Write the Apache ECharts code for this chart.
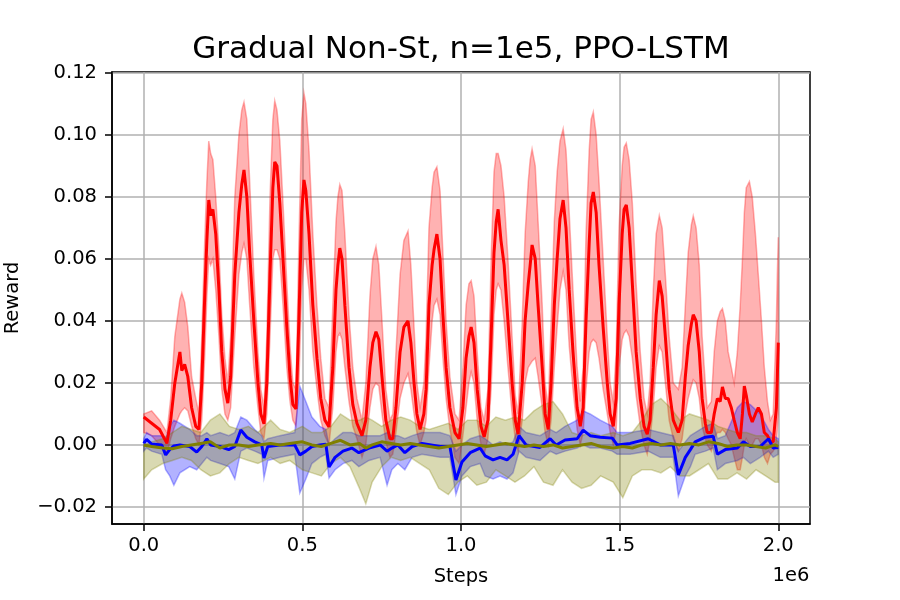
<!DOCTYPE html>
<html><head><meta charset="utf-8">
<script src="https://cdn.jsdelivr.net/npm/echarts@6/dist/echarts.min.js"></script>
<style>html,body{margin:0;padding:0;background:#fff}#c{width:900px;height:600px}</style>
</head><body><div id="c"></div>
<script>
// x values are steps in millions (axis shows "1e6" offset)
const xTickValues = [0, 0.5, 1.0, 1.5, 2.0];
const yTickValues = [-0.02, 0.00, 0.02, 0.04, 0.06, 0.08, 0.10, 0.12];

const redSteps = [
0.000,0.025,0.050,0.073,0.085,0.098,0.114,0.120,0.129,0.139,
0.151,0.164,0.174,0.183,0.192,0.199,0.205,0.211,0.218,0.227,
0.237,0.246,0.256,0.265,0.274,0.287,0.300,0.309,0.316,0.325,
0.334,0.347,0.360,0.369,0.379,0.388,0.398,0.407,0.413,0.420,
0.429,0.439,0.451,0.461,0.470,0.480,0.489,0.498,0.505,0.511,
0.521,0.533,0.546,0.558,0.571,0.584,0.596,0.606,0.612,0.618,
0.625,0.634,0.647,0.659,0.672,0.688,0.700,0.713,0.722,0.732,
0.741,0.751,0.763,0.776,0.785,0.795,0.808,0.820,0.833,0.842,
0.852,0.861,0.871,0.883,0.890,0.899,0.909,0.915,0.924,0.934,
0.943,0.953,0.965,0.981,0.994,1.006,1.016,1.025,1.032,1.041,
1.051,1.063,1.073,1.085,1.095,1.104,1.111,1.117,1.126,1.136,
1.148,1.161,1.171,1.180,1.193,1.202,1.212,1.218,1.224,1.234,
1.243,1.256,1.265,1.275,1.284,1.294,1.303,1.312,1.322,1.331,
1.341,1.353,1.366,1.376,1.385,1.394,1.404,1.410,1.417,1.426,
1.435,1.448,1.461,1.470,1.480,1.489,1.498,1.508,1.514,1.521,
1.530,1.540,1.552,1.565,1.577,1.587,1.596,1.606,1.615,1.625,
1.634,1.644,1.656,1.669,1.685,1.697,1.707,1.716,1.726,1.732,
1.741,1.751,1.760,1.770,1.776,1.789,1.798,1.808,1.817,1.824,
1.833,1.842,1.852,1.861,1.871,1.880,1.887,1.893,1.899,1.909,
1.918,1.928,1.937,1.947,1.956,1.966,1.975,1.984,1.994,1.997,
2.000];
const redMean = [
0.0090,0.0070,0.0050,0.0005,0.008,0.020,0.030,0.024,0.026,0.022,
0.012,0.006,0.005,0.020,0.047,0.066,0.079,0.074,0.076,0.068,
0.050,0.030,0.018,0.0135,0.022,0.055,0.075,0.084,0.0887,0.080,
0.062,0.040,0.020,0.010,0.0068,0.020,0.055,0.083,0.0913,0.090,
0.078,0.060,0.038,0.022,0.013,0.0116,0.040,0.075,0.0855,0.082,
0.068,0.045,0.028,0.015,0.008,0.0058,0.025,0.050,0.058,0.0635,
0.060,0.045,0.025,0.013,0.007,0.003,0.008,0.025,0.033,0.0365,
0.034,0.022,0.008,0.002,0.002,0.012,0.030,0.038,0.040,0.033,
0.020,0.010,0.005,0.010,0.018,0.045,0.058,0.063,0.068,0.060,
0.042,0.025,0.012,0.004,0.002,0.012,0.028,0.035,0.038,0.033,
0.018,0.006,0.0026,0.008,0.035,0.062,0.072,0.076,0.066,0.058,
0.040,0.020,0.008,0.0035,0.020,0.040,0.052,0.058,0.0645,0.060,
0.045,0.025,0.010,0.005,0.020,0.045,0.060,0.073,0.079,0.070,
0.050,0.030,0.012,0.006,0.012,0.040,0.065,0.078,0.0816,0.075,
0.058,0.038,0.020,0.010,0.006,0.015,0.045,0.068,0.076,0.0774,
0.070,0.052,0.030,0.015,0.006,0.0035,0.008,0.025,0.042,0.053,
0.048,0.035,0.018,0.008,0.004,0.008,0.022,0.032,0.039,0.042,
0.040,0.030,0.015,0.007,0.004,0.004,0.010,0.015,0.014,0.0187,
0.015,0.015,0.012,0.008,0.004,0.002,0.010,0.019,0.016,0.010,
0.0074,0.010,0.012,0.010,0.004,0.003,0.001,0.001,0.012,0.022,
0.033];
const redLow = [
0.004,0.003,0.000,-0.003,0.002,0.006,0.010,0.011,0.012,0.011,
0.006,0.002,0.000,0.008,0.028,0.048,0.060,0.058,0.060,0.050,
0.035,0.018,0.010,0.008,0.012,0.035,0.055,0.062,0.065,0.060,
0.045,0.025,0.012,0.004,0.002,0.010,0.035,0.060,0.063,0.063,
0.060,0.045,0.025,0.014,0.008,0.006,0.020,0.050,0.060,0.060,
0.050,0.030,0.018,0.008,0.003,0.000,0.012,0.030,0.035,0.036,
0.034,0.025,0.014,0.006,0.002,-0.004,0.000,0.012,0.018,0.020,
0.019,0.010,0.001,-0.004,-0.003,0.004,0.015,0.020,0.023,0.018,
0.010,0.004,0.000,0.004,0.008,0.025,0.040,0.045,0.047,0.042,
0.028,0.015,0.005,-0.004,-0.006,0.003,0.012,0.020,0.0235,0.020,
0.008,0.000,-0.003,0.002,0.018,0.042,0.050,0.052,0.050,0.040,
0.025,0.010,0.002,-0.002,0.008,0.020,0.025,0.026,0.027,0.028,
0.022,0.012,0.004,0.000,0.008,0.025,0.038,0.050,0.056,0.050,
0.032,0.018,0.005,0.000,0.004,0.018,0.030,0.033,0.034,0.033,
0.028,0.018,0.010,0.004,0.000,0.005,0.025,0.034,0.036,0.037,
0.035,0.028,0.016,0.006,0.000,-0.003,0.002,0.012,0.025,0.032,
0.030,0.020,0.008,0.002,-0.002,0.002,0.010,0.015,0.019,0.021,
0.020,0.015,0.006,0.002,0.000,-0.002,0.002,0.004,0.004,0.005,
0.004,0.002,0.000,-0.004,-0.008,-0.008,-0.004,0.000,0.002,0.000,
0.000,0.002,0.002,0.000,-0.004,-0.006,-0.003,-0.002,0.000,0.005,
0.010];
const redHigh = [
0.010,0.011,0.008,0.004,0.015,0.035,0.047,0.049,0.046,0.038,
0.022,0.015,0.010,0.035,0.065,0.085,0.098,0.094,0.092,0.080,
0.063,0.042,0.028,0.020,0.035,0.080,0.100,0.108,0.1106,0.105,
0.085,0.055,0.030,0.018,0.012,0.035,0.080,0.105,0.111,0.108,
0.098,0.078,0.052,0.032,0.020,0.018,0.065,0.105,0.1135,0.110,
0.095,0.068,0.045,0.028,0.015,0.012,0.045,0.072,0.080,0.084,
0.082,0.068,0.042,0.025,0.015,0.008,0.020,0.048,0.060,0.064,
0.058,0.040,0.018,0.008,0.010,0.030,0.055,0.066,0.069,0.058,
0.038,0.020,0.012,0.020,0.035,0.070,0.083,0.088,0.0897,0.082,
0.062,0.040,0.022,0.010,0.008,0.025,0.045,0.052,0.053,0.048,
0.030,0.012,0.008,0.018,0.060,0.088,0.094,0.094,0.090,0.080,
0.060,0.035,0.016,0.010,0.040,0.068,0.085,0.092,0.0955,0.090,
0.072,0.045,0.020,0.012,0.040,0.072,0.088,0.098,0.102,0.095,
0.075,0.050,0.025,0.014,0.025,0.068,0.095,0.105,0.1074,0.100,
0.085,0.060,0.035,0.020,0.014,0.030,0.070,0.090,0.096,0.0974,
0.092,0.078,0.052,0.030,0.015,0.010,0.020,0.050,0.068,0.074,
0.070,0.055,0.035,0.020,0.018,0.025,0.045,0.062,0.071,0.0739,
0.070,0.058,0.035,0.020,0.012,0.014,0.030,0.040,0.043,0.044,
0.040,0.030,0.025,0.020,0.030,0.045,0.060,0.075,0.083,0.085,
0.080,0.068,0.055,0.040,0.025,0.014,0.008,0.010,0.040,0.055,
0.067];

const blueSteps = [
0.000,0.009,0.025,0.057,0.069,0.082,0.095,0.114,0.145,0.167,
0.183,0.199,0.211,0.240,0.268,0.287,0.306,0.325,0.350,0.372,
0.379,0.391,0.429,0.476,0.492,0.511,0.530,0.555,0.574,0.584,
0.603,0.628,0.656,0.678,0.710,0.745,0.767,0.782,0.801,0.823,
0.846,0.877,0.934,0.965,0.984,1.003,1.029,1.060,1.076,1.101,
1.123,1.145,1.164,1.183,1.205,1.249,1.281,1.300,1.328,1.366,
1.385,1.407,1.439,1.477,1.492,1.533,1.590,1.628,1.669,1.685,
1.707,1.723,1.738,1.770,1.795,1.808,1.833,1.871,1.890,1.912,
1.943,1.969,1.984,2.000];
const blueMean = [
0.0005,0.0018,0.0003,0.0000,-0.0032,-0.0015,-0.0003,0.0000,-0.0005,-0.0023,
-0.0005,0.0020,0.0000,-0.0005,-0.0015,-0.0005,0.0048,0.0025,0.0010,0.0000,
-0.0042,-0.0005,0.0000,0.0000,-0.0032,-0.0020,-0.0005,0.0000,0.0002,-0.0071,
-0.0040,-0.0020,-0.0010,-0.0025,-0.0010,0.0000,-0.0020,-0.0010,0.0000,-0.0025,
-0.0005,0.0005,-0.0005,-0.0005,-0.0113,-0.0055,-0.0025,-0.0010,-0.0035,-0.0048,
-0.0040,-0.0048,-0.0030,0.0030,0.0000,-0.0008,0.0020,0.0000,0.0016,0.0020,
0.0048,0.0030,0.0025,0.0022,0.0000,0.0005,0.0020,0.0000,0.0000,-0.0097,
-0.0040,-0.0015,0.0010,0.0025,0.0028,-0.0030,-0.0015,-0.0010,0.0010,-0.0005,
-0.0005,0.0020,-0.0010,-0.0008];
const blueLow = [
-0.002,-0.001,-0.002,-0.003,-0.008,-0.010,-0.013,-0.009,-0.007,-0.008,
-0.006,-0.004,-0.005,-0.006,-0.007,-0.011,-0.002,-0.001,-0.002,-0.003,
-0.0107,-0.005,-0.004,-0.003,-0.0155,-0.011,-0.006,-0.004,-0.003,-0.0107,
-0.008,-0.006,-0.005,-0.007,-0.005,-0.004,-0.013,-0.008,-0.006,-0.008,
-0.004,-0.003,-0.004,-0.004,-0.016,-0.010,-0.007,-0.006,-0.010,-0.011,
-0.010,-0.011,-0.009,-0.002,-0.004,-0.005,-0.002,-0.003,-0.002,-0.001,
0.000,-0.001,-0.001,-0.002,-0.003,-0.003,-0.002,-0.004,-0.004,-0.0165,
-0.010,-0.007,-0.003,-0.002,-0.001,-0.008,-0.006,-0.005,-0.004,-0.006,
-0.004,-0.002,-0.004,-0.003];
const blueHigh = [
0.002,0.004,0.003,0.003,0.002,0.006,0.008,0.007,0.005,0.003,
0.003,0.004,0.003,0.004,0.003,0.004,0.009,0.008,0.005,0.003,
0.001,0.002,0.003,0.004,0.019,0.014,0.009,0.006,0.005,0.000,
0.002,0.004,0.004,0.003,0.003,0.003,0.004,0.003,0.003,0.002,
0.003,0.004,0.004,0.003,-0.002,0.000,0.002,0.003,0.002,0.000,
0.001,0.000,0.001,0.006,0.004,0.003,0.005,0.004,0.006,0.008,
0.011,0.010,0.008,0.006,0.004,0.004,0.005,0.004,0.003,-0.002,
0.001,0.003,0.004,0.006,0.007,0.002,0.003,0.012,0.014,0.013,
0.010,0.005,0.003,0.002];

const oliveSteps = [
0.000,0.025,0.060,0.090,0.120,0.150,0.180,0.210,0.240,0.270,
0.300,0.330,0.360,0.400,0.430,0.460,0.500,0.530,0.560,0.590,
0.620,0.650,0.680,0.700,0.720,0.750,0.780,0.810,0.840,0.870,
0.900,0.930,0.960,0.990,1.020,1.050,1.080,1.110,1.140,1.170,
1.200,1.230,1.260,1.290,1.320,1.350,1.380,1.410,1.440,1.480,
1.510,1.540,1.570,1.600,1.630,1.660,1.690,1.720,1.750,1.780,
1.810,1.840,1.870,1.900,1.930,1.960,1.990,2.000];
const oliveMean = [
0.000,-0.0005,-0.001,-0.0012,-0.0005,0.000,0.0005,0.001,-0.001,0.000,
0.000,-0.0005,0.000,0.0005,0.000,0.0005,0.001,0.000,-0.0005,0.0005,
0.0015,0.000,0.0005,-0.001,0.000,0.001,0.0005,0.000,0.0005,0.000,
-0.0005,-0.001,-0.0005,0.000,0.0005,0.000,-0.0005,0.000,0.0005,0.000,
-0.0005,0.000,-0.0005,0.000,-0.001,-0.0005,0.000,0.0005,-0.0005,-0.001,
-0.0005,-0.001,0.000,0.0005,0.000,0.0005,0.000,0.0005,0.000,0.001,
0.0005,-0.0005,0.000,0.000,-0.0005,-0.001,0.000,-0.0005];
const oliveLow = [
-0.011,-0.008,-0.006,-0.005,-0.004,-0.005,-0.008,-0.010,-0.009,-0.006,
-0.004,-0.005,-0.006,-0.004,-0.006,-0.005,-0.008,-0.009,-0.010,-0.006,
-0.004,-0.007,-0.014,-0.019,-0.012,-0.007,-0.004,-0.005,-0.004,-0.006,
-0.008,-0.014,-0.016,-0.012,-0.010,-0.013,-0.012,-0.008,-0.010,-0.012,
-0.010,-0.007,-0.012,-0.013,-0.008,-0.012,-0.014,-0.013,-0.010,-0.012,
-0.017,-0.010,-0.008,-0.008,-0.009,-0.007,-0.010,-0.010,-0.008,-0.006,
-0.011,-0.011,-0.009,-0.011,-0.008,-0.010,-0.012,-0.012];
const oliveHigh = [
0.000,0.001,0.002,0.004,0.006,0.005,0.004,0.008,0.010,0.006,
0.005,0.006,0.004,0.008,0.005,0.004,0.006,0.004,0.004,0.006,
0.010,0.008,0.008,0.009,0.008,0.006,0.008,0.009,0.008,0.006,
0.005,0.006,0.007,0.005,0.008,0.008,0.006,0.009,0.008,0.009,
0.008,0.011,0.013,0.014,0.010,0.004,0.003,0.004,0.003,0.004,
0.003,0.004,0.008,0.013,0.015,0.012,0.008,0.010,0.009,0.008,
0.006,0.005,0.004,0.004,0.003,0.003,0.002,0.001];

const FONT = 'DejaVu Sans';
function pairs(xs, ys) { return xs.map((x, i) => [x, ys[i]]); }
function band(xs, lo, hi, fill, z) {
  return { type: 'custom', z: z, silent: true, clip: true,
    data: xs.map((x, i) => [x, lo[i], hi[i]]),
    encode: { x: 0, y: [1, 2] },
    renderItem: function (params, api) {
      if (params.dataIndex !== 0) return null;
      const pts = [];
      for (let i = 0; i < xs.length; i++) pts.push(api.coord([xs[i], hi[i]]));
      for (let i = xs.length - 1; i >= 0; i--) pts.push(api.coord([xs[i], lo[i]]));
      return { type: 'polygon', shape: { points: pts }, style: { fill: fill, stroke: fill, lineWidth: 1.5 } };
    } };
}
function meanLine(xs, ys, color, z) {
  return { type: 'line', data: pairs(xs, ys), symbol: 'none', silent: true, z: z,
    lineStyle: { color: color, width: 3 } };
}
function onGrid(v, step) { const q = v / step; return Math.abs(q - Math.round(q)) < 1e-6; }

const chart = echarts.init(document.getElementById('c'), null, { renderer: 'canvas' });
chart.setOption({
  animation: false,
  backgroundColor: '#fff',
  grid: { left: 112, right: 90, top: 72, bottom: 76, show: true, borderColor: '#000', borderWidth: 1.5,
          backgroundColor: 'transparent', outerBoundsMode: 'none', containLabel: false },
  xAxis: {
    type: 'value', min: -0.1, max: 2.1,
    name: 'Steps', nameLocation: 'middle', nameGap: 43,
    nameTextStyle: { fontFamily: FONT, fontSize: 19.5, color: '#000' },
    axisLine: { show: true, onZero: false, lineStyle: { color: '#000', width: 1.5 } },
    axisTick: { show: true, length: 7, lineStyle: { color: '#000', width: 1.5 }, customValues: xTickValues },
    axisLabel: { fontFamily: FONT, fontSize: 19.5, color: '#000', margin: 12, customValues: xTickValues,
      formatter: v => onGrid(v, 0.5) ? v.toFixed(1) : '' },
    splitLine: { show: true, lineStyle: { color: '#b0b0b0', width: 1.5 } }
  },
  yAxis: {
    type: 'value', min: -0.0255, max: 0.1203, splitNumber: 7,
    name: 'Reward', nameLocation: 'middle', nameGap: 89, nameRotate: 90,
    nameTextStyle: { fontFamily: FONT, fontSize: 19.5, color: '#000' },
    axisLine: { show: true, onZero: false, lineStyle: { color: '#000', width: 1.5 } },
    axisTick: { show: true, length: 7, lineStyle: { color: '#000', width: 1.5 }, customValues: yTickValues },
    axisLabel: { fontFamily: FONT, fontSize: 19.5, color: '#000', margin: 15, customValues: yTickValues,
      formatter: v => onGrid(v, 0.02) ? v.toFixed(2).replace('-', '\u2212') : '' },
    splitLine: { show: true, lineStyle: { color: '#b0b0b0', width: 1.5 } }
  },
  graphic: [
    { type: 'text', style: { text: 'Gradual Non-St, n=1e5, PPO-LSTM', fontFamily: FONT, fontSize: 31, fill: '#000', align: 'center', verticalAlign: 'middle', x: 461, y: 50 } },
    { type: 'text', style: { text: '1e6', fontFamily: FONT, fontSize: 19.5, fill: '#000', align: 'center', verticalAlign: 'middle', x: 791, y: 576 } }
  ],
  series: [
    band(redSteps, redLow, redHigh, 'rgba(255,0,0,0.3)', 2),
    band(blueSteps, blueLow, blueHigh, 'rgba(0,0,255,0.3)', 2),
    band(oliveSteps, oliveLow, oliveHigh, 'rgba(128,128,0,0.3)', 2),
    meanLine(redSteps, redMean, '#ff0000', 3),
    meanLine(blueSteps, blueMean, '#0000ff', 3),
    meanLine(oliveSteps, oliveMean, '#808000', 3)
  ]
});
</script>
</body></html>
